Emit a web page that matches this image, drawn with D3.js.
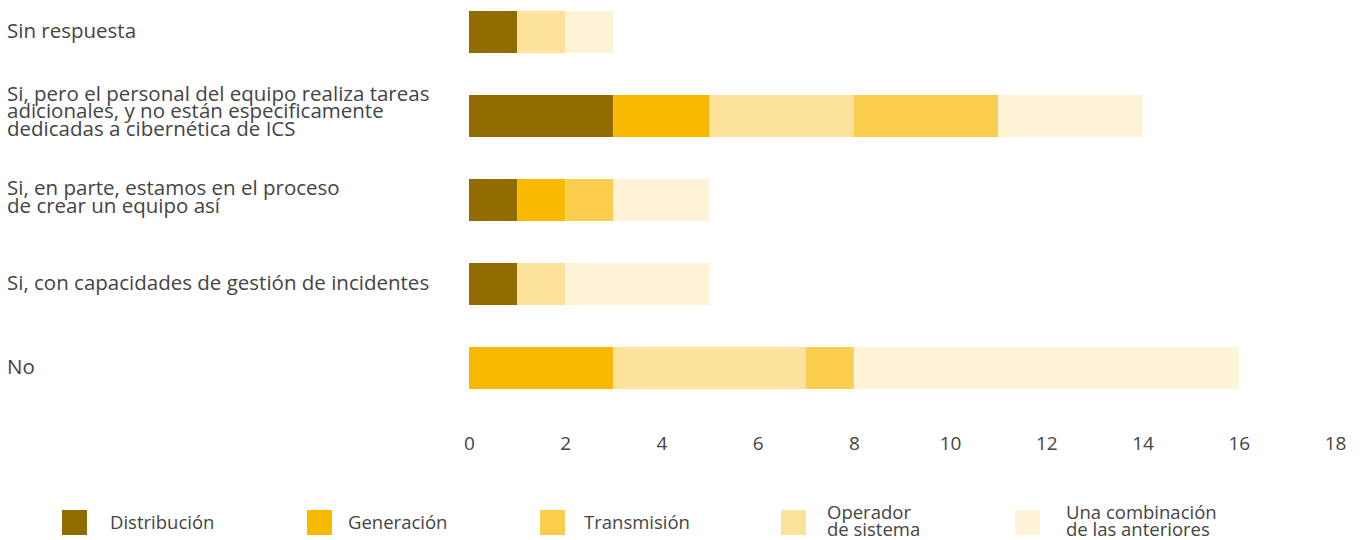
<!DOCTYPE html>
<html>
<head>
<meta charset="utf-8">
<script src="https://cdn.jsdelivr.net/npm/d3@7"></script>
<style>
  body { margin: 0; background: #fff; }
  text { font-family: "Open Sans", "DejaVu Sans", sans-serif; fill: #444; }
</style>
</head>
<body>
<svg id="chart" width="1363" height="540"></svg>
<script>
// categories, top to bottom
var categories = [
  ["Sin respuesta"],
  ["Si, pero el personal del equipo realiza tareas", "adicionales, y no están especificamente", "dedicadas a cibernética de ICS"],
  ["Si, en parte, estamos en el proceso", "de crear un equipo así"],
  ["Si, con capacidades de gestión de incidentes"],
  ["No"]
];

// series in stacking order
var series = ["Distribución", "Generación", "Operador de sistema", "Transmisión", "Una combinación de las anteriores"];
var distribucion = [1, 3, 1, 1, 0];
var generacion   = [0, 2, 1, 0, 3];
var operador     = [1, 3, 0, 1, 4];
var transmision  = [0, 3, 1, 0, 1];
var combinacion  = [1, 3, 2, 3, 8];

var xTicks = [0, 2, 4, 6, 8, 10, 12, 14, 16, 18];

var colors = {
  "Distribución": "#8f6b00",
  "Generación": "#f8b900",
  "Transmisión": "#fbcd4e",
  "Operador de sistema": "#fce29a",
  "Una combinación de las anteriores": "#fef3d6"
};

// legend order differs from stacking order
var legendItems = [
  { key: "Distribución", lines: ["Distribución"] },
  { key: "Generación", lines: ["Generación"] },
  { key: "Transmisión", lines: ["Transmisión"] },
  { key: "Operador de sistema", lines: ["Operador", "de sistema"] },
  { key: "Una combinación de las anteriores", lines: ["Una combinación", "de las anteriores"] }
];
var legendX = [62, 307, 540, 781, 1015];

var rows = categories.map(function(c, i) {
  return {
    idx: i,
    "Distribución": distribucion[i],
    "Generación": generacion[i],
    "Operador de sistema": operador[i],
    "Transmisión": transmision[i],
    "Una combinación de las anteriores": combinacion[i]
  };
});

var svg = d3.select("#chart");

var x = d3.scaleLinear().domain([0, 18]).range([469, 1335]);
var y = d3.scaleBand().domain(d3.range(categories.length)).range([-31, 431]).padding(0.5);

var stack = d3.stack().keys(series)(rows);

svg.append("g").selectAll("g")
  .data(stack)
  .join("g")
  .attr("fill", function(d) { return colors[d.key]; })
  .selectAll("rect")
  .data(function(d) { return d; })
  .join("rect")
  .attr("x", function(d) { return x(d[0]); })
  .attr("width", function(d) { return x(d[1]) - x(d[0]); })
  .attr("y", function(d) { return y(d.data.idx); })
  .attr("height", y.bandwidth());

// category labels
var lineH = 17.5;
var labels = svg.append("g").selectAll("text")
  .data(categories)
  .join("text")
  .attr("x", 7)
  .attr("y", function(d, i) {
    return y(i) + y.bandwidth() / 2 - 1 - (d.length - 1) * (lineH / 2 + 2);
  })
  .style("font-size", "20.5px");
labels.selectAll("tspan")
  .data(function(d) { return d; })
  .join("tspan")
  .attr("x", 7)
  .attr("dy", function(d, j) { return j === 0 ? "0.35em" : lineH; })
  .text(function(d) { return d; });

// x axis, labels only
var xAxis = svg.append("g")
  .attr("transform", "translate(0,430)")
  .call(d3.axisBottom(x).tickValues(xTicks).tickSize(0).tickPadding(0));
xAxis.select(".domain").remove();
xAxis.selectAll("text")
  .attr("dy", "0.35em")
  .attr("y", 13)
  .style("font-size", "19px")
  .style("fill", "#444")
  .style("font-family", "\"Open Sans\", sans-serif");

// legend
var lg = svg.append("g").selectAll("g")
  .data(legendItems)
  .join("g")
  .attr("transform", function(d, i) { return "translate(" + legendX[i] + ",510)"; });
lg.append("rect")
  .attr("width", 25).attr("height", 25)
  .attr("fill", function(d) { return colors[d.key]; });
lg.append("text")
  .attr("x", function(d, i) { return [48, 41, 44, 46, 51][i]; })
  .attr("y", function(d) { return 12.5 - (d.lines.length - 1) * 10; })
  .style("font-size", "18.5px")
  .selectAll("tspan")
  .data(function(d) { return d.lines; })
  .join("tspan")
  .attr("x", function() { return d3.select(this.parentNode).attr("x"); })
  .attr("dy", function(d, j) { return j === 0 ? "0.35em" : 17.5; })
  .text(function(d) { return d; });
</script>
</body>
</html>
